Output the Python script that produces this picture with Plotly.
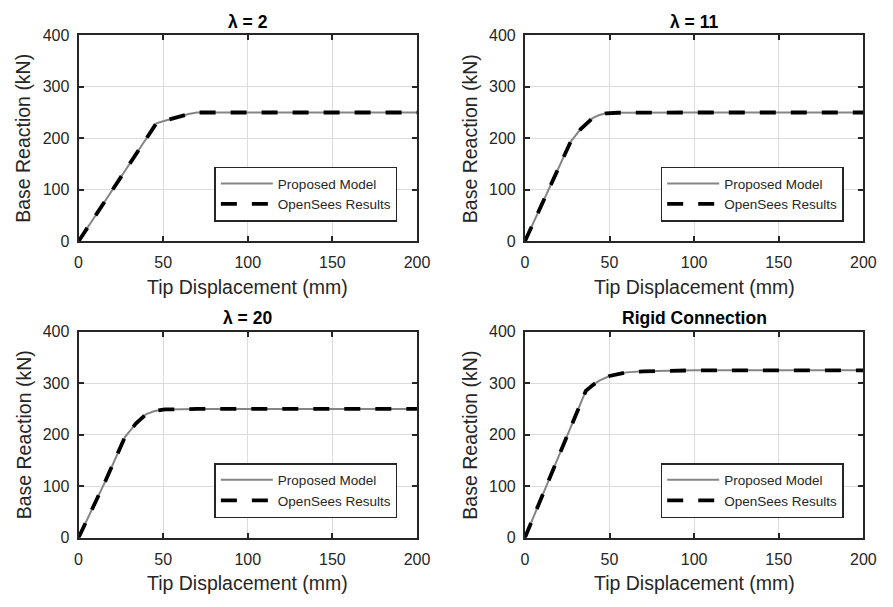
import plotly.graph_objects as go

# ---- data: tip displacement (mm) vs base reaction (kN) ----
titles = ["λ = 2", "λ = 11", "λ = 20", "Rigid Connection"]

disp_l2 = [0, 20, 46, 50, 55, 60, 65, 70, 100, 150, 200]
react_l2 = [0, 100, 229, 233, 238, 243, 247, 250, 250, 250, 250]

disp_l11 = [0, 16, 27, 33, 40, 44, 48, 55, 70, 100, 150, 200]
react_l11 = [0, 113, 193, 218, 239, 245, 248.5, 249.5, 250, 250, 250, 250]

disp_l20 = [0, 16, 27.5, 34, 40, 45, 51, 60, 70, 100, 150, 200]
react_l20 = [0, 111, 196, 222, 240, 246, 249, 249.7, 250, 250, 250, 250]

disp_rigid = [0, 20, 36, 40, 44, 50, 55, 60, 70, 80, 100, 150, 200]
react_rigid = [0, 157, 285, 296, 305, 314, 318, 321, 323, 324, 325, 325, 325]

proposed = [(disp_l2, react_l2), (disp_l11, react_l11),
            (disp_l20, react_l20), (disp_rigid, react_rigid)]
opensees = [(disp_l2, react_l2), (disp_l11, react_l11),
            (disp_l20, react_l20), (disp_rigid, react_rigid)]

x_ticks = [0, 50, 100, 150, 200]
y_ticks = [0, 100, 200, 300, 400]

# ---- layout geometry (pixels) ----
W, H = 893, 607
cols = [(76, 421), (531, 876)]
rows = [(28, 240), (333, 545)]

FONT = "Liberation Sans, Arial, Helvetica, sans-serif"
AX = "#262626"

fig = go.Figure()
layout = dict(
    width=W, height=H,
    margin=dict(l=0, r=0, t=0, b=0),
    paper_bgcolor="white", plot_bgcolor="white",
    font=dict(family=FONT, color=AX),
    showlegend=True,
    annotations=[],
)

for i in range(4):
    r, c = divmod(i, 2)
    x0, x1 = cols[c]
    y0, y1 = rows[r]
    n = i + 1
    xa = "x" if n == 1 else f"x{n}"
    ya = "y" if n == 1 else f"y{n}"
    lg = "legend" if n == 1 else f"legend{n}"

    px, py = proposed[i]
    fig.add_trace(go.Scatter(
        x=px, y=py, mode="lines", name="Proposed Model",
        line=dict(color="#858585", width=2),
        xaxis=xa, yaxis=ya, legend=lg))
    ox, oy = opensees[i]
    fig.add_trace(go.Scatter(
        x=ox, y=oy, mode="lines", name="OpenSees Results",
        line=dict(color="black", width=3.8, dash="16px,15px"),
        xaxis=xa, yaxis=ya, legend=lg))

    axis_common = dict(
        showline=True, linecolor=AX, linewidth=2, mirror="ticks",
        ticks="inside", ticklen=5, tickwidth=2, tickcolor=AX,
        showgrid=True, gridcolor="#dcdcdc", gridwidth=1,
        zeroline=False, tickfont=dict(family=FONT, size=16, color=AX),
    )
    layout["xaxis" if n == 1 else f"xaxis{n}"] = dict(
        axis_common, domain=[x0 / W, x1 / W], range=[0, 200],
        tickvals=x_ticks, anchor=ya, ticklabelstandoff=6)
    layout["yaxis" if n == 1 else f"yaxis{n}"] = dict(
        axis_common, domain=[1 - y1 / H, 1 - y0 / H], range=[0, 400],
        tickvals=y_ticks, anchor=xa, ticklabelstandoff=4)

    layout[lg] = dict(
        x=(x1 - 20) / W, xanchor="right",
        y=1 - (y1 - 48.5) / H, yanchor="middle",
        bgcolor="white", bordercolor=AX, borderwidth=1.5,
        font=dict(family=FONT, size=13.5, color=AX),
        itemwidth=52, tracegroupgap=0, traceorder="normal",
    )

    cx = (x0 + x1) / 2
    # panel title
    layout["annotations"].append(dict(
        text=f"<b>{titles[i]}</b>", x=cx / W, y=1 - (y0 - 14) / H,
        xref="paper", yref="paper", showarrow=False,
        xanchor="center", yanchor="middle",
        font=dict(family=FONT, size=17.5, color="black")))
    # x-axis title
    layout["annotations"].append(dict(
        text="Tip Displacement (mm)", x=cx / W, y=1 - (y1 + 47) / H,
        xref="paper", yref="paper", showarrow=False,
        xanchor="center", yanchor="middle",
        font=dict(family=FONT, size=19.5, color=AX)))
    # y-axis title
    layout["annotations"].append(dict(
        text="Base Reaction (kN)", x=(x0 - 56) / W, y=1 - ((y0 + y1) / 2) / H,
        xref="paper", yref="paper", showarrow=False, textangle=-90,
        xanchor="center", yanchor="middle",
        font=dict(family=FONT, size=19.5, color=AX)))

fig.update_layout(**layout)
fig.write_html("out.html")
